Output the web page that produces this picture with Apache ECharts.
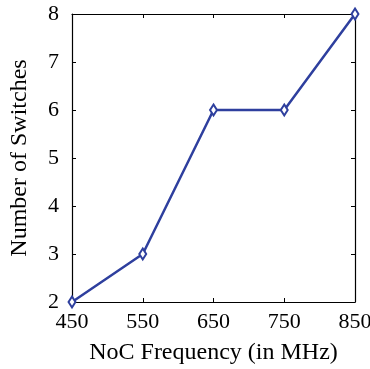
<!DOCTYPE html>
<html>
<head>
<meta charset="utf-8">
<script src="https://cdn.jsdelivr.net/npm/echarts@6/dist/echarts.min.js"></script>
<style>
  html, body { margin: 0; padding: 0; background: #fff; }
  #chart { width: 370px; height: 369px; }
</style>
</head>
<body>
<div id="chart"></div>
<script>
// NoC frequency (MHz) vs. number of switches
const frequencies = [450, 550, 650, 750, 850];
const switchCounts = [2, 3, 6, 6, 8];

const points = frequencies.map((f, i) => [f, switchCounts[i]]);

const fontFamily = '"Liberation Serif", "DejaVu Serif", serif';
const axisLine = { show: true, lineStyle: { color: '#000', width: 1.2 } };
const tickIn = { show: true, inside: true, length: 4, lineStyle: { color: '#000', width: 1 } };

const chart = echarts.init(document.getElementById('chart'));
chart.setOption({
  animation: false,
  grid: { left: 72, right: 15, top: 14, bottom: 67, outerBoundsMode: 'none', containLabel: false },
  xAxis: [
    {
      type: 'value', min: 450, max: 850, interval: 100,
      name: 'NoC Frequency (in MHz)', nameLocation: 'middle', nameGap: 39,
      nameTextStyle: { fontFamily, fontSize: 24, color: '#000' },
      axisLine, axisTick: tickIn,
      axisLabel: { fontFamily, fontSize: 22, color: '#000', margin: 9 },
      splitLine: { show: false }
    },
    {
      type: 'value', position: 'top', min: 450, max: 850, interval: 100,
      axisLine, axisTick: tickIn, axisLabel: { show: false }, splitLine: { show: false }
    }
  ],
  yAxis: [
    {
      type: 'value', min: 2, max: 8, interval: 1,
      name: 'Number of Switches', nameLocation: 'middle', nameGap: 40,
      nameTextStyle: { fontFamily, fontSize: 24, color: '#000' },
      axisLine, axisTick: tickIn,
      axisLabel: { fontFamily, fontSize: 22, color: '#000', margin: 13 },
      splitLine: { show: false }
    },
    {
      type: 'value', position: 'right', min: 2, max: 8, interval: 1,
      axisLine, axisTick: tickIn, axisLabel: { show: false }, splitLine: { show: false }
    }
  ],
  series: [{
    type: 'line',
    data: points,
    symbol: 'emptyDiamond',
    symbolSize: [7, 11],
    lineStyle: { color: '#2e3f9e', width: 2.5 },
    itemStyle: { color: '#2e3f9e', borderWidth: 2 }
  }]
});
</script>
</body>
</html>
